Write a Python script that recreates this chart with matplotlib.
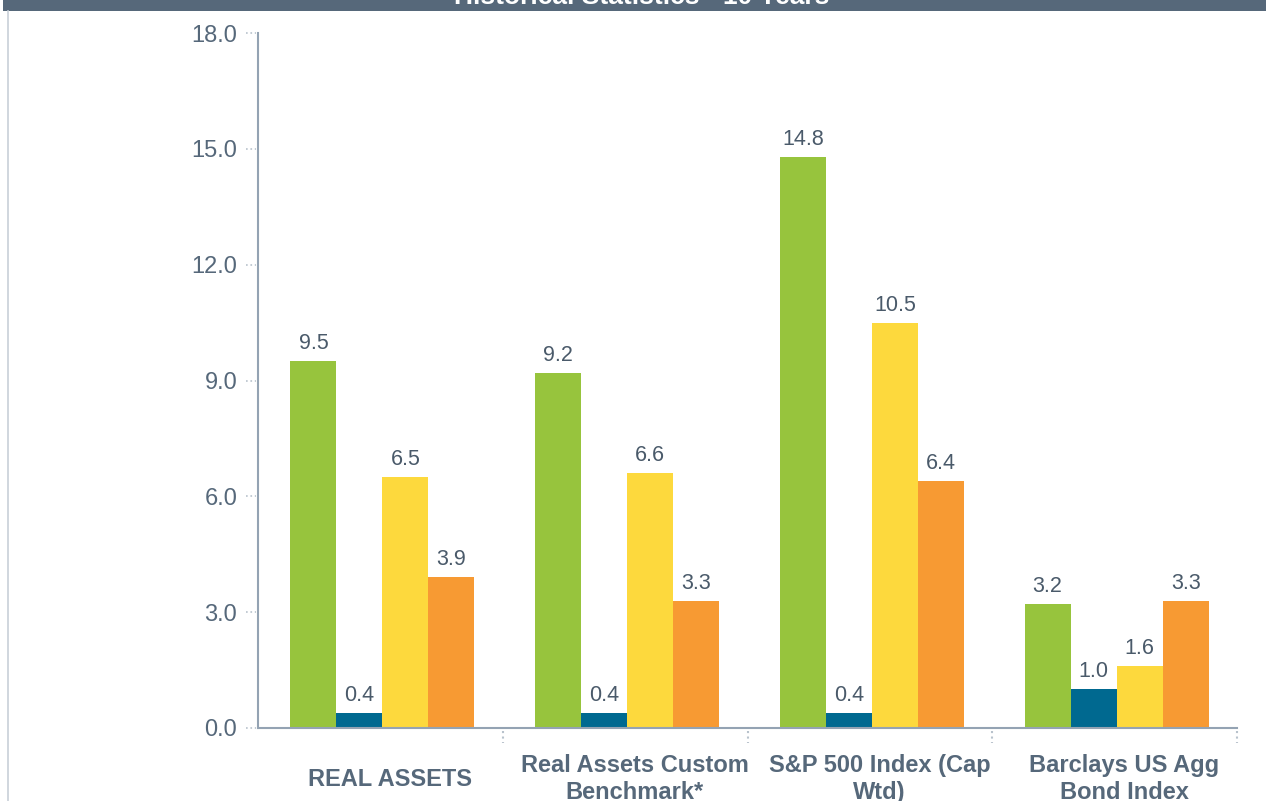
import numpy as np
import matplotlib.pyplot as plt
from matplotlib.lines import Line2D
from matplotlib.patches import Rectangle

plt.rcParams['font.family'] = ['Liberation Sans', 'DejaVu Sans']

categories = ["REAL ASSETS", "Real Assets Custom\nBenchmark*",
              "S&P 500 Index (Cap\nWtd)", "Barclays US Agg\nBond Index"]
series_a = [9.5, 9.2, 14.8, 3.2]
series_b = [0.4, 0.4, 0.4, 1.0]
series_c = [6.5, 6.6, 10.5, 1.6]
series_d = [3.9, 3.3, 6.4, 3.3]
colors = ["#97C43D", "#006990", "#FDD93D", "#F79A33"]
yticks = [0.0, 3.0, 6.0, 9.0, 12.0, 15.0, 18.0]
title = "Historical Statistics - 10 Years"

text_col = "#56687A"
axis_col = "#94A3B3"
dot_col = "#B8C2CC"

fig = plt.figure(figsize=(12.66, 8.01), dpi=100)
W, H = 1266, 801

# header band with the (partly hidden) title
fig.patches.append(Rectangle((3 / W, 1 - 11 / H), 1, 11 / H, transform=fig.transFigure,
                             facecolor="#56687A", edgecolor="none", zorder=0))
fig.text(642 / W, 1 - 4 / H, title, color="white", fontsize=19, fontweight="bold",
         ha="center", va="baseline")
fig.lines.append(Line2D([8 / W, 8 / W], [0, 1 - 11 / H], transform=fig.transFigure,
                        color="#C8D0D8", lw=1.2))

ax = fig.add_axes([258 / W, (H - 728) / H, 979 / W, 695 / H])

x = np.arange(len(categories))
w = 46 / 244.75
shift = 2 / 244.75
all_series = [series_a, series_b, series_c, series_d]
for i, (vals, c) in enumerate(zip(all_series, colors)):
    xs = x + (i - 1.5) * w + shift
    bars = ax.bar(xs, vals, width=w, color=c, zorder=2)
    for b, v in zip(bars, vals):
        ax.annotate(f"{v:.1f}", (b.get_x() + b.get_width() / 2, v),
                    xytext=(0, 5), textcoords="offset points",
                    ha="center", va="bottom", fontsize=15.5, color="#4A5A6A")

ax.set_xlim(-0.5, len(categories) - 0.5)
ax.set_ylim(0, 18)
ax.set_yticks(yticks)
ax.set_yticklabels([f"{t:.1f}" for t in yticks], fontsize=17, color=text_col)
ax.tick_params(axis="y", length=0, pad=15)
ax.set_xticks([])

for s in ["top", "right"]:
    ax.spines[s].set_visible(False)
for s in ["left", "bottom"]:
    ax.spines[s].set_color(axis_col)
    ax.spines[s].set_linewidth(1.5)

# dotted tick marks
ytr = ax.get_yaxis_transform()
for t in yticks:
    ax.plot([-12 / 979, -2 / 979], [t, t], transform=ytr, color=dot_col,
            lw=1.2, ls=":", clip_on=False)
xtr = ax.get_xaxis_transform()
for b in np.arange(0.5, len(categories), 1.0):
    ax.plot([b, b], [-3 / 695, -15 / 695], transform=xtr, color=dot_col,
            lw=1.5, ls=":", clip_on=False)

for xi, lab in zip(x, categories):
    ax.text(xi + 0.04, -51 / 695, lab, transform=xtr, ha="center", va="center",
            fontsize=17, fontweight="bold", color=text_col, linespacing=1.2)

fig.savefig("out.png", dpi=100)
